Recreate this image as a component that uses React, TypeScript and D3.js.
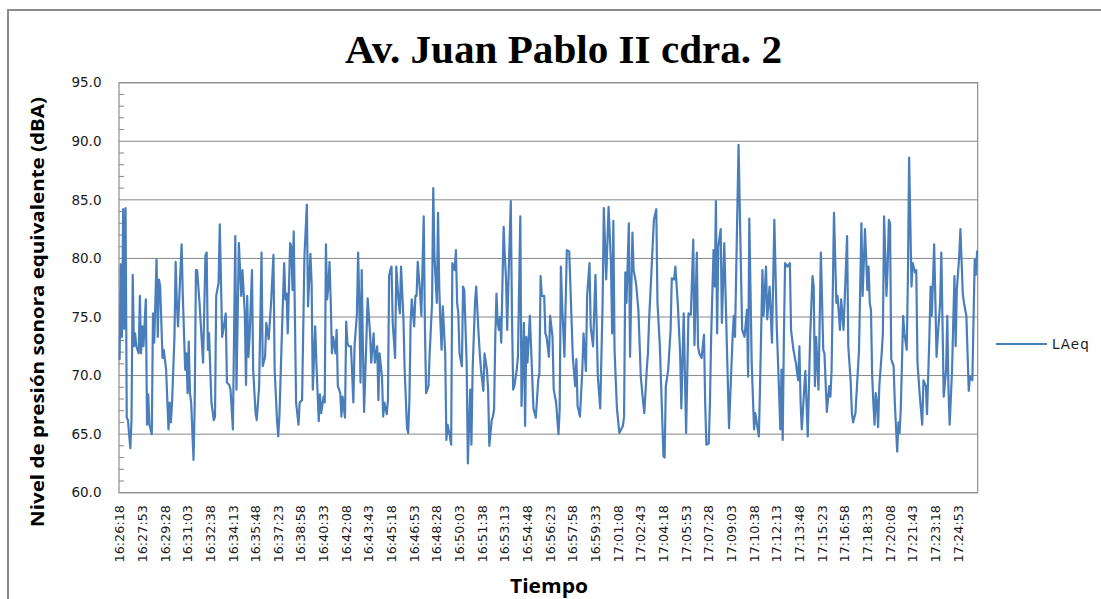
import React from "react";
import * as d3 from "d3";

// ---- data ----
const title = "Av. Juan Pablo II cdra. 2";
const seriesName = "LAeq";
const yAxisTitle = "Nivel de presión sonora equivalente (dBA)";
const xAxisTitle = "Tiempo";
const startTime = "16:26:18";
const sampleSeconds = 5;
const sampleCount = 720;

const yTicks = [60, 65, 70, 75, 80, 85, 90, 95];

const tickLabels = [
  "16:26:18", "16:27:53", "16:29:28", "16:31:03", "16:32:38", "16:34:13", "16:35:48", "16:37:23",
  "16:38:58", "16:40:33", "16:42:08", "16:43:43", "16:45:18", "16:46:53", "16:48:28", "16:50:03",
  "16:51:38", "16:53:13", "16:54:48", "16:56:23", "16:57:58", "16:59:33", "17:01:08", "17:02:43",
  "17:04:18", "17:05:53", "17:07:28", "17:09:03", "17:10:38", "17:12:13", "17:13:48", "17:15:23",
  "17:16:58", "17:18:33", "17:20:08", "17:21:43", "17:23:18", "17:24:53",
];

// sample number (5 s steps from 16:26:18)
const sampleIdx = [
  0, 1, 2, 3, 4, 5, 6, 7, 9, 10, 11, 12, 13, 14, 16, 17, 18, 19, 20, 22, 23, 24, 25, 27, 28, 29, 31, 32, 33, 34,
  36, 37, 39, 41, 42, 43, 44, 46, 47, 48, 49, 50, 52, 53, 55, 56, 57, 58, 59, 60, 62, 63, 64, 65, 67, 68, 70, 72,
  73, 74, 75, 77, 79, 80, 81, 83, 84, 86, 87, 89, 90, 92, 93, 95, 97, 98, 100, 102, 103, 105, 106, 107, 108, 109,
  111, 112, 114, 115, 117, 119, 120, 122, 123, 125, 127, 129, 130, 132, 133, 134, 136, 138, 139, 140, 141, 143,
  144, 145, 146, 148, 150, 151, 153, 155, 157, 158, 160,
  161, 162, 164, 165, 167, 168, 169, 171, 172, 173, 174, 175, 176, 177, 178, 179, 181, 182, 183, 185, 186, 187,
  189, 190, 191, 192, 194, 196, 197, 199, 200, 201, 202, 203, 204, 205, 207, 208, 210, 211, 213, 214, 216, 217,
  218, 220, 221, 222, 224, 225, 226, 227, 228, 229, 231, 232, 234, 235, 236, 238, 239, 241, 242, 243, 244, 245,
  247, 248, 249, 250, 252, 253, 255, 256, 257, 259, 260, 262, 263, 264, 266, 267, 268, 269, 270, 271, 273, 274,
  275, 277, 278, 279, 281, 282, 283, 284, 285, 287, 288, 289, 291, 292, 294, 295, 296, 298, 299, 301, 302, 303,
  305, 306, 308, 309, 310, 312, 313, 314, 315, 316, 317, 318, 319,
  320, 322, 323, 324, 325, 326, 328, 329, 330, 331, 333, 334, 336, 337, 339, 340, 341, 342, 344, 347, 349, 351,
  352, 353, 354, 356, 357, 358, 360, 361, 363, 364, 366, 368, 369, 370, 371, 373, 375, 377, 380, 382, 383, 384,
  386, 388, 389, 391, 392, 394, 395, 397, 399, 401, 403, 405, 406, 408, 410, 412, 413, 414, 415, 417, 419, 421,
  422, 423, 424, 425, 427, 428, 430, 431, 433, 435, 436, 437, 439, 440, 442, 443, 444, 446, 448, 450, 451, 453,
  456, 457, 458, 460, 462, 463, 465, 466, 468, 470, 471, 473, 475, 477,
  479, 481, 482, 484, 485, 486, 488, 490, 491, 492, 494, 495, 496, 498, 499, 500, 501, 502, 504, 505, 507, 509,
  511, 512, 514, 515, 516, 519, 521, 522, 524, 526, 527, 528, 530, 532, 533, 536, 537, 539, 540, 542, 543, 545,
  547, 549, 551, 553, 554, 555, 556, 557, 558, 560, 562, 563, 565, 567, 569, 570, 571, 572, 574, 575, 577, 579,
  581, 582, 583, 584, 586, 588, 590, 591, 593, 595, 596, 597, 599, 601, 602, 604, 605, 607, 610, 611, 613, 614,
  615, 617, 620, 622, 623, 625, 627, 628, 629, 630, 631, 632, 633, 634, 635, 636, 637,
  639, 640, 641, 643, 644, 645, 646, 647, 649, 650, 652, 653, 654, 655, 657, 658, 660, 661, 662, 664, 665, 667,
  668, 669, 671, 673, 674, 676, 677, 679, 680, 681, 683, 685, 686, 688, 689, 690, 691, 693, 694, 695, 696, 698,
  699, 700, 701, 702, 704, 705, 707, 708, 710, 712, 713, 715, 717, 718, 719,
];

// LAeq (dBA)
const laeq = [
  71.4, 79.5, 73.3, 84.2, 74.0, 84.3, 66.4, 66.2, 63.8, 66.2, 78.6, 72.5, 73.6, 72.5, 71.9, 76.8, 71.9, 74.2, 72.5, 76.5, 65.8, 68.4, 65.8, 65.0, 75.3, 72.8, 79.9, 73.3, 78.2, 77.6,
  71.5, 72.2, 70.5, 65.4, 67.7, 66.0, 67.7, 73.3, 79.7, 76.2, 74.2, 76.5, 81.2, 76.8, 70.5, 71.9, 68.5, 72.9, 68.5, 67.7, 62.8, 67.7, 79.0, 79.0, 76.2, 74.5, 71.1, 80.3,
  80.5, 72.2, 73.6, 67.7, 66.2, 66.5, 76.8, 77.9, 82.9, 73.3, 73.9, 75.3, 69.4, 69.2, 68.8, 65.4, 81.9, 68.8, 81.3, 76.8, 79.0, 75.3, 69.2, 76.8, 71.6, 73.3,
  79.0, 70.5, 66.8, 66.2, 69.1, 80.5, 70.8, 71.6, 74.5, 73.1, 76.2, 80.3, 70.5, 66.2, 64.8, 66.5, 73.3, 79.6, 76.5, 77.0, 73.6, 81.3,
  81.0, 77.3, 82.3, 67.7, 65.8, 67.7, 67.9, 80.2, 84.6, 75.9, 80.4,
  77.9, 68.8, 74.2, 71.1, 66.1, 68.4, 66.8, 68.2, 67.7, 81.2, 76.5, 77.6, 79.7, 76.5, 71.9, 73.3, 71.9, 73.9, 69.1, 68.5, 66.5, 68.2,
  66.4, 74.6, 72.8, 72.5, 72.5, 67.7, 72.5, 75.3, 80.5, 76.2, 69.4, 79.0, 72.5, 66.9, 73.3, 76.6, 73.6, 71.1, 73.6, 71.1, 72.5, 67.9,
  71.9, 69.9, 66.5, 67.7, 66.7, 67.9, 78.5, 79.0, 79.3, 74.5, 71.5, 79.3, 76.2, 75.3, 79.3, 74.8, 70.5, 65.5, 65.1, 67.9, 74.5, 76.5,
  74.2, 76.8, 76.8, 79.7, 77.0, 75.1, 83.6, 74.2, 68.5, 69.1, 71.9, 76.2, 86.0, 80.2, 76.2, 83.9, 77.6, 74.5, 72.2, 75.9, 71.9, 64.5,
  65.8, 64.8, 64.1, 79.6, 79.0, 80.7, 76.2, 75.3, 71.9, 70.8, 77.6, 77.3, 71.1, 62.5, 68.8, 64.1, 70.5, 76.2, 77.6, 73.6, 71.9, 70.5,
  68.7, 71.9, 70.5, 68.8, 64.0, 66.2, 66.5, 67.1, 73.3, 77.0, 74.5, 73.9, 75.0,
  72.8, 82.7, 80.2, 78.3, 73.9, 77.9, 84.9, 75.1, 68.8, 69.1, 70.5, 71.6, 83.6, 67.4, 74.5, 65.7, 73.3, 71.1, 75.1, 67.2, 66.4, 69.6,
  70.2, 78.5, 76.8, 76.8, 73.6, 73.3, 71.6, 75.1, 73.3, 68.8, 67.7, 65.0, 67.1, 79.3, 76.2, 71.6, 80.7, 80.6, 71.6, 69.1, 71.4, 67.4,
  66.5, 70.5, 73.6, 70.4, 76.8, 79.6, 74.2, 72.5, 78.6, 69.9, 67.2, 76.2, 84.3, 78.2, 84.4, 79.6, 73.6, 83.2, 72.2, 67.2, 65.1, 65.5,
  65.7, 66.5, 78.8, 76.2, 83.0, 71.6, 82.2, 79.0, 77.9, 75.6, 72.8, 69.9, 67.7, 66.8, 70.5, 71.9, 74.8, 79.0, 83.3, 84.2, 76.2, 72.5,
  63.1, 63.0, 69.1, 70.5, 73.9, 78.3, 78.2, 79.3, 76.2, 71.9, 67.2, 75.3, 65.1, 75.3,
  75.2, 81.6, 72.6, 80.5, 72.5, 71.9, 71.5, 73.5, 67.7, 64.1, 64.2, 67.7, 73.3, 80.7, 77.6, 84.9, 73.6, 81.0, 82.5, 74.5, 81.3, 73.3,
  65.5, 68.2, 73.3, 75.1, 73.3, 89.7, 79.0, 73.9, 73.3, 75.6, 69.9, 83.4, 71.1, 65.4, 66.8, 64.8, 69.1, 79.0, 75.1, 79.3, 74.8, 77.6,
  72.8, 83.3, 74.2, 68.5, 65.4, 70.5, 64.5, 73.3, 79.6, 79.3, 79.6, 73.9, 72.2, 71.1, 69.6, 72.5, 67.7, 65.4, 68.8, 70.4, 64.8, 73.3,
  78.5, 77.6, 69.1, 73.3, 68.8, 80.5, 72.2, 71.9, 66.9, 69.1, 68.2, 70.5, 83.9, 76.2, 76.8, 73.9, 76.5, 73.9, 81.9, 72.5, 69.5, 66.8,
  66.0, 66.8, 72.2, 83.0, 76.8, 82.5, 77.3, 79.3, 76.2, 75.6, 70.0, 67.7, 65.8, 68.5, 67.7, 65.6, 69.1,
  71.9, 73.6, 83.6, 76.8, 79.3, 83.3, 83.0, 71.4, 70.8, 67.7, 63.5, 66.0, 65.1, 67.1, 75.1, 73.6, 72.2, 78.5, 88.6, 77.6, 79.6, 78.8,
  79.0, 71.1, 68.2, 65.8, 69.6, 69.1, 66.7, 73.3, 77.6, 75.1, 81.2, 71.6, 73.3, 76.2, 80.5, 74.5, 68.2, 70.5, 75.1, 68.8, 65.8, 70.5,
  74.5, 78.5, 72.5, 77.3, 80.2, 82.5, 77.0, 76.2, 75.1, 68.7, 69.9, 69.6, 79.9, 78.6, 80.6,
];

// ---- helpers ----
const toSec = (t: string) => {
  const [h, m, s] = t.split(":").map(Number);
  return h * 3600 + m * 60 + s;
};

export default function App() {
  const W = 1101;
  const H = 599;
  const plot = { left: 119, right: 977.7, top: 82.7, bottom: 492.7 };

  const x = d3.scaleLinear().domain([-0.5, sampleCount - 0.5]).range([plot.left, plot.right]);
  const y = d3.scaleLinear().domain([60, 95]).range([plot.bottom, plot.top]);

  const points = sampleIdx.map((s, i) => [s, laeq[i]] as [number, number]);
  const line = d3
    .line<[number, number]>()
    .x((d) => x(d[0]))
    .y((d) => y(d[1]));

  const t0 = toSec(startTime);
  const minorTicks = d3.range(60, 95.001, 1).filter((v) => v % 5 !== 0);

  const lineColor = "#4a7ebb";
  const gridColor = "#878787";
  const tickFont = "'DejaVu Sans', Verdana, sans-serif";

  return (
    <svg
      width={W}
      height={H}
      style={{ position: "absolute", left: 0, top: 0, background: "#fff" }}
    >
      <rect x={0} y={0} width={W} height={H} fill="#fff" />
      {/* chart frame */}
      <rect x={8} y={10} width={W + 20} height={H + 20} fill="none" stroke="#8c8c8c" strokeWidth={2} />

      {/* title */}
      <text
        x={563.5}
        y={62.5}
        textAnchor="middle"
        fontFamily="'Liberation Serif', 'Times New Roman', serif"
        fontWeight="bold"
        fontSize={40}
        textLength={437}
        lengthAdjust="spacingAndGlyphs"
        fill="#000"
      >
        {title}
      </text>

      {/* gridlines */}
      {yTicks.map((v) => (
        <line key={"g" + v} x1={plot.left} x2={plot.right} y1={y(v)} y2={y(v)} stroke={gridColor} strokeWidth={1} />
      ))}

      {/* plot border */}
      <rect
        x={plot.left}
        y={plot.top}
        width={plot.right - plot.left}
        height={plot.bottom - plot.top}
        fill="none"
        stroke="#8c8c8c"
        strokeWidth={1.2}
      />

      {/* minor ticks on value axis */}
      {minorTicks.map((v) => (
        <line key={"m" + v} x1={plot.left} x2={plot.left + 5} y1={y(v)} y2={y(v)} stroke={gridColor} strokeWidth={1} />
      ))}

      {/* y tick labels */}
      {yTicks.map((v) => (
        <text
          key={"yl" + v}
          x={101.5}
          y={y(v)}
          dy="0.35em"
          textAnchor="end"
          fontFamily={tickFont}
          fontSize={13.5}
          fill="#1a1a1a"
        >
          {v.toFixed(1)}
        </text>
      ))}

      {/* x tick labels */}
      {tickLabels.map((t) => {
        const idx = (toSec(t) - t0) / sampleSeconds;
        const tx = x(idx);
        return (
          <text
            key={"xl" + t}
            transform={`translate(${tx},505) rotate(-90)`}
            dy="0.36em"
            textAnchor="end"
            fontFamily={tickFont}
            fontSize={12.8}
            fill="#1a1a1a"
          >
            {t}
          </text>
        );
      })}

      {/* series */}
      <path
        d={line(points) || ""}
        fill="none"
        stroke={lineColor}
        strokeWidth={2.2}
        strokeLinejoin="round"
        strokeLinecap="round"
      />

      {/* axis titles */}
      <text
        transform="translate(43.5,312) rotate(-90)"
        textAnchor="middle"
        fontFamily="'Open Sans', 'DejaVu Sans', sans-serif"
        fontWeight="bold"
        fontSize={18}
        textLength={430}
        lengthAdjust="spacingAndGlyphs"
        fill="#000"
      >
        {yAxisTitle}
      </text>
      <text
        x={549}
        y={593}
        textAnchor="middle"
        fontFamily="'Open Sans', 'DejaVu Sans', sans-serif"
        fontWeight="bold"
        fontSize={20}
        textLength={78}
        lengthAdjust="spacingAndGlyphs"
        fill="#000"
      >
        {xAxisTitle}
      </text>

      {/* legend */}
      <line x1={996} x2={1047} y1={344} y2={344} stroke={lineColor} strokeWidth={2.2} />
      <text
        x={1052}
        y={348.5}
        fontFamily={tickFont}
        fontSize={13.5}
        letterSpacing={1}
        fill="#1a1a1a"
      >
        {seriesName}
      </text>
    </svg>
  );
}
